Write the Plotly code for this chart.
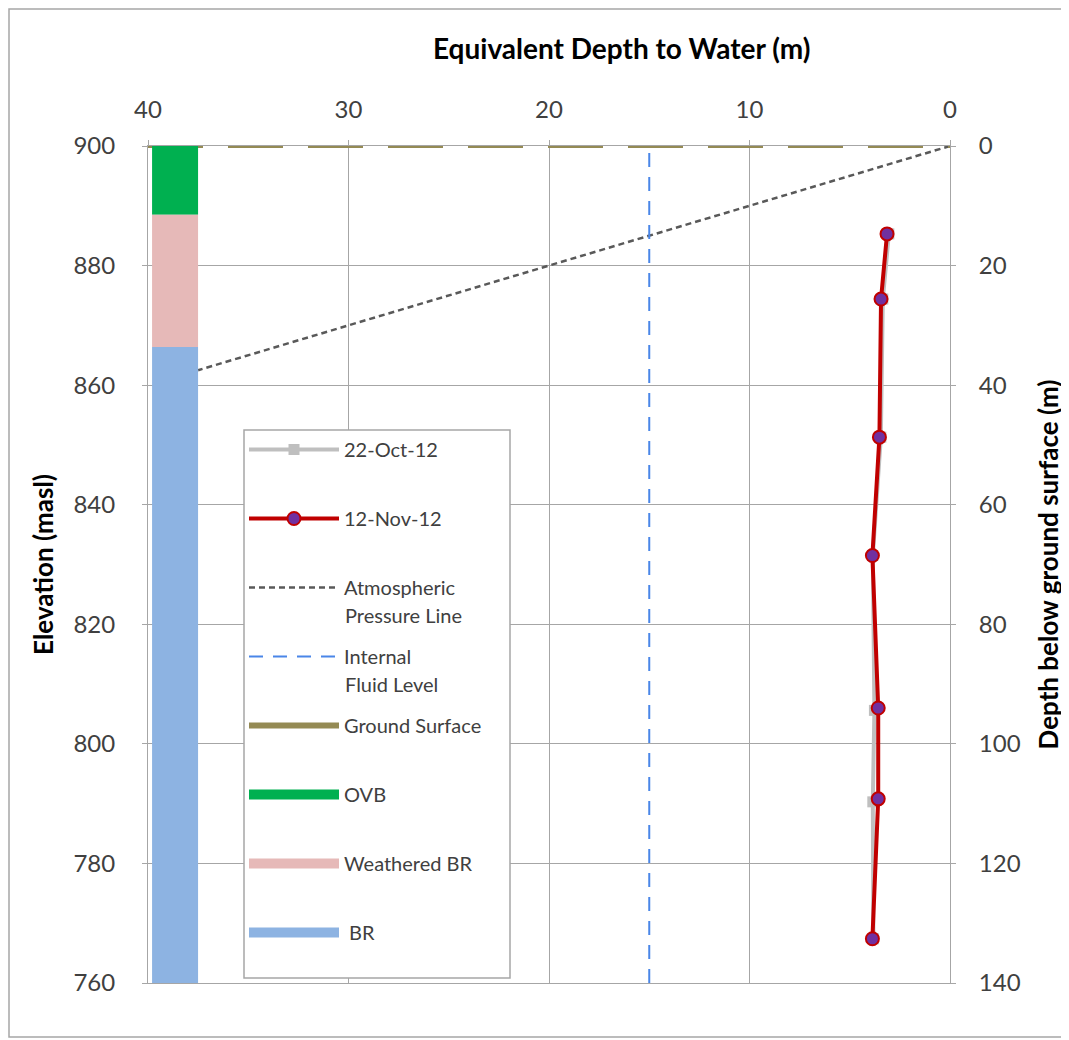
import plotly.graph_objects as go

# 12-Nov-12 and 22-Oct-12 readings: equivalent depth to water (m) vs elevation (masl)
nov_depth = [3.14, 3.44, 3.52, 3.87, 3.58, 3.58, 3.87]
nov_elev = [885.3, 874.4, 851.3, 831.5, 806.0, 790.8, 767.4]
oct_depth = [3.05, 3.35, 3.45, 3.85, 3.77, 3.85, 3.82]
oct_elev = [885.3, 874.4, 851.3, 831.5, 805.6, 790.3, 767.4]

# reference lines
atm_x = [0, 37.5]
atm_y = [900, 862.5]
fluid_x = [15, 15]
fluid_y = [760, 900]
ground_x = [40, 0]
ground_y = [900, 900]

# stratigraphy column (elevation tops/bottoms)
col_x = 38.65
ovb = [900, 888.5]
wbr = [888.5, 866.4]
br = [866.4, 760]

font = "Lato, 'Open Sans', sans-serif"
txt = "#404040"
grid = "#a6a6a6"


def px_x(p):
    # screen pixel -> paper x (plot area spans 148..950 on screen)
    return (p - 148) / 802


def px_y(p):
    # screen pixel -> paper y (plot area spans 146..983 on screen)
    return 1 - (p - 146) / 837


fig = go.Figure()
fig.add_trace(go.Scatter(x=oct_depth, y=oct_elev, name="22-Oct-12", mode="lines+markers",
                         line=dict(color="#bfbfbf", width=4),
                         marker=dict(symbol="square", size=11, color="#bfbfbf"),
                         legendgroup="a"))
fig.add_trace(go.Scatter(x=nov_depth, y=nov_elev, name="12-Nov-12", mode="lines+markers",
                         line=dict(color="#c00000", width=4),
                         marker=dict(symbol="circle", size=13, color="#7030a0",
                                     line=dict(color="#c00000", width=2)),
                         legendgroup="b"))
fig.add_trace(go.Scatter(x=atm_x, y=atm_y, name="Atmospheric", mode="lines",
                         line=dict(color="#595959", width=2.5, dash="6px,4px"), legendgroup="c"))
fig.add_trace(go.Scatter(x=fluid_x, y=fluid_y, name="Internal", mode="lines",
                         line=dict(color="#4a86e8", width=2, dash="14px,10px"), legendgroup="d"))
fig.add_trace(go.Scatter(x=ground_x, y=ground_y, name="Ground Surface", mode="lines",
                         line=dict(color="#948a54", width=4, dash="55px,25px"),
                         showlegend=False, legendgroup="e"))
# legend swatch for ground surface (solid, as in the source legend)
fig.add_trace(go.Scatter(x=[None], y=[None], name="Ground Surface", mode="lines",
                         line=dict(color="#948a54", width=6), legendgroup="e", hoverinfo="skip"))
fig.add_trace(go.Scatter(x=[col_x, col_x], y=ovb, name="OVB", mode="lines",
                         line=dict(color="#00b050", width=46), legendgroup="f"))
fig.add_trace(go.Scatter(x=[col_x, col_x], y=wbr, name="Weathered BR", mode="lines",
                         line=dict(color="#e6b9b8", width=46), legendgroup="g"))
fig.add_trace(go.Scatter(x=[col_x, col_x], y=br, name=" BR", mode="lines",
                         line=dict(color="#8db3e2", width=46), legendgroup="h"))
# carries the right-hand depth axis
fig.add_trace(go.Scatter(x=[0], y=[0], yaxis="y2", mode="markers", marker=dict(opacity=0),
                         showlegend=False, hoverinfo="skip"))

fig.update_xaxes(side="top", range=[40, 0], dtick=10, showgrid=True, gridcolor=grid,
                 showline=True, linecolor=grid, ticks="outside", ticklen=5, tickcolor=grid,
                 ticklabelstandoff=12,
                 tickfont=dict(size=24, color=txt, family=font), zeroline=False, mirror=True)
fig.update_layout(
    width=1069, height=1040,
    margin=dict(l=140, r=127, t=138, b=65),
    plot_bgcolor="white", paper_bgcolor="white",
    font=dict(family=font, color=txt),
    yaxis=dict(range=[760, 900], dtick=20, showgrid=True, gridcolor=grid,
               showline=True, linecolor=grid, ticks="outside", ticklen=5, tickcolor=grid,
               ticklabelstandoff=22, tickfont=dict(size=24, color=txt), zeroline=False,
               title=dict(text="<b>Elevation (masl)</b>", font=dict(size=26, color="black"), standoff=12)),
    yaxis2=dict(range=[140, 0], dtick=20, overlaying="y", side="right", showgrid=False,
                showline=True, linecolor=grid, ticks="outside", ticklen=5, tickcolor=grid,
                ticklabelstandoff=18, tickfont=dict(size=24, color=txt), zeroline=False,
                title=dict(text="<b>Depth below ground surface (m)</b>", font=dict(size=26, color="black"),
                           standoff=20)),
    showlegend=True,
    legend=dict(x=px_x(244), y=px_y(430), xanchor="left", yanchor="top",
                bgcolor="rgba(0,0,0,0)", borderwidth=0, font=dict(size=20, color=txt),
                tracegroupgap=40, itemwidth=90, traceorder="grouped"),
    annotations=[
        dict(text="<b>Equivalent Depth to Water (m)</b>", x=px_x(621), y=px_y(48),
             xref="paper", yref="paper", xanchor="center", yanchor="middle", showarrow=False,
             font=dict(size=28, color="black")),
        # second lines of the two-line legend labels
        dict(text="Pressure Line", x=px_x(343), y=px_y(615), xref="paper", yref="paper",
             xanchor="left", yanchor="middle", showarrow=False, font=dict(size=20, color=txt)),
        dict(text="Fluid Level", x=px_x(343), y=px_y(684), xref="paper", yref="paper",
             xanchor="left", yanchor="middle", showarrow=False, font=dict(size=20, color=txt)),
    ],
)
# legend box
fig.add_shape(type="rect", xref="paper", yref="paper", x0=px_x(244), x1=px_x(510), y0=px_y(978), y1=px_y(430),
              line=dict(color=grid, width=1.5), fillcolor="white", layer="above")
# outer chart border
fig.add_shape(type="rect", xref="paper", yref="paper", x0=px_x(9), x1=px_x(1100), y0=px_y(1037), y1=px_y(9),
              line=dict(color=grid, width=1.5), layer="below")

fig.write_html("out.html")
